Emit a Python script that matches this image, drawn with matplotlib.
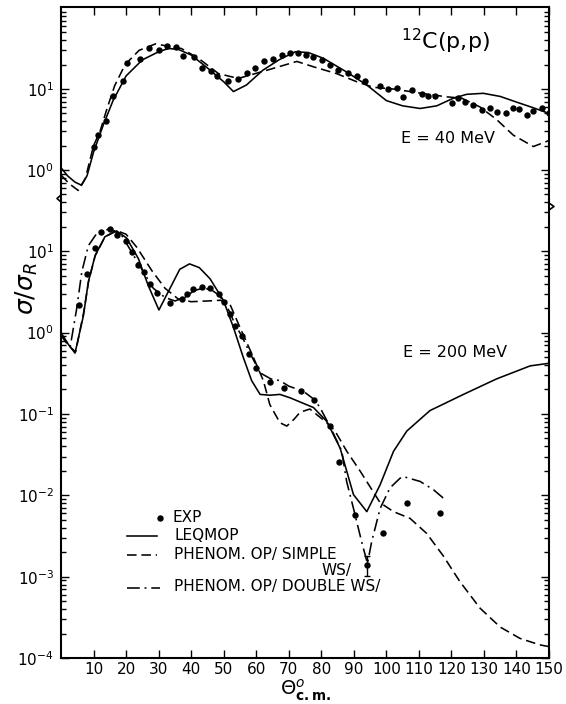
import matplotlib
matplotlib.use("Agg")
import matplotlib.pyplot as plt
from matplotlib.lines import Line2D

plt.rcParams['font.family'] = ['DejaVu Sans']
plt.rcParams['mathtext.fontset'] = 'dejavusans'

# ---- 12C(p,p), E = 40 MeV ----
exp40_x = [10.2, 11.5, 13.7, 16.1, 19.2, 20.4, 24.3, 27.1, 30.1, 32.7, 35.3, 37.4, 41.0, 43.2,
           46.1, 48.0, 51.2, 54.5, 57.1, 59.6, 62.5, 65.3, 67.8, 70.4, 72.8, 75.3, 77.6, 80.1,
           82.7, 85.2, 88.3, 91.1, 93.5, 98.1, 100.6, 103.2, 105.0, 107.8, 110.9, 112.9, 115.0,
           120.1, 121.9, 124.2, 126.7, 129.3, 131.9, 134.1, 136.8, 139.0, 140.9, 143.2, 145.2,
           147.8, 150.0]
exp40_y = [1.95, 2.7, 4.0, 8.2, 12.6, 20.8, 23.5, 32, 30, 34, 33, 25.6, 25, 18.3,
           16.8, 14.6, 12.6, 13.3, 15.9, 18.3, 22.3, 23.3, 26, 27.6, 27.6, 26.5, 24.5, 22.8,
           20, 17.1, 15.6, 14.5, 12.6, 10.9, 10, 10.4, 8.0, 9.7, 8.6, 8.3, 8.2,
           6.8, 7.8, 6.96, 6.3, 5.5, 5.9, 5.25, 5.1, 5.8, 5.6, 4.8, 5.35,
           5.9, 5.0]

leq40_x = [0, 2, 4.3, 6.3, 8, 10, 13, 16, 20, 25, 30, 33, 36, 40, 45, 50, 53, 57, 62, 67, 72,
           76, 80.6, 87.8, 94, 100, 105, 110.4, 115.5, 120.6, 124.7, 129.8, 135, 140, 145, 150]
leq40_y = [1.07, 0.85, 0.71, 0.65, 0.85, 1.66, 3.6, 7.2, 14.5, 22.9, 28.8, 31.6, 30.9, 26.3,
           18.2, 12.3, 9.3, 11.2, 17.0, 22.9, 28.8, 28.2, 24.0, 16.2, 11.2, 7.2, 6.2, 5.75,
           6.2, 7.7, 8.6, 8.85, 8.1, 6.9, 5.9, 5.0]

simple40_x = [0, 2.5, 5.3, 7.5, 10, 12, 14, 16.5, 19.7, 24, 29, 37, 42.2, 48.4, 54.5, 63.2, 72.5,
              77.6, 84.7, 90.9, 96, 102.2, 110.4, 118.6, 123.2, 128.8, 133.9, 139, 145.2, 149.8]
simple40_y = [0.87, 0.68, 0.56, 0.79, 2.0, 3.0, 5.5, 11, 20, 30, 36, 31.6, 24, 15.5, 13.5, 17,
              21.9, 18.8, 15.5, 12.3, 10.5, 10, 8.9, 8.0, 7.7, 6.0, 4.2, 2.7, 1.95, 2.3]

# ---- 12C(p,p), E = 200 MeV ----
exp200_x = [5.5, 7.9, 10.5, 12.3, 15.1, 17.3, 20.0, 21.7, 23.8, 25.6, 27.4, 29.6, 33.5, 37.1,
            38.6, 40.7, 43.2, 45.8, 48.7, 50.2, 52.0, 53.5, 55.5, 57.9, 60.0, 64.2, 68.6, 73.7,
            77.9, 82.7, 85.6, 90.4, 94.0, 99.1, 106.3, 116.5]
exp200_y = [2.2, 5.3, 11, 17.3, 18.6, 15.8, 13.3, 9.8, 6.8, 5.5, 4.0, 3.1, 2.3, 2.6,
            3.0, 3.4, 3.6, 3.5, 3.0, 2.4, 1.7, 1.22, 0.91, 0.55, 0.37, 0.25, 0.21, 0.19,
            0.148, 0.071, 0.026, 0.0057, 0.00138, 0.0034, 0.008, 0.006]
err_x = 94.0
err_lo = 0.00102
err_hi = 0.00178

leq200_x = [0, 2, 4.3, 6.9, 8.4, 10.5, 13.5, 17.1, 20.2, 23.8, 26.8, 30.1, 33.5, 36.5, 39.5,
            42.5, 45.8, 49.9, 53, 56, 58.6, 61.2, 64.2, 67.3, 70.4, 77.6, 81.7, 85.8, 89.9, 94,
            98.1, 102.2, 106.3, 113.4, 123.7, 133.9, 144.2, 150]
leq200_y = [0.96, 0.74, 0.56, 1.62, 4.2, 8.9, 15.1, 17.8, 14.5, 8.1, 3.8, 1.9, 3.5, 6.0, 7.0,
            6.3, 4.6, 2.5, 1.16, 0.50, 0.257, 0.174, 0.17, 0.174, 0.158, 0.12, 0.081, 0.038,
            0.0102, 0.0063, 0.0135, 0.0347, 0.0617, 0.11, 0.174, 0.27, 0.39, 0.42]

simple200_x = [0, 2.2, 4.5, 7, 8.5, 10.5, 13.5, 17, 20, 23.3, 27.9, 32, 36, 40, 45, 49, 52, 55,
               59.1, 62.2, 64.2, 67.3, 69.4, 71.5, 73.5, 76.5, 81.7, 84.2, 87.8, 91.9, 98.1,
               102.2, 107.3, 112.4, 117.5, 122.6, 128.8, 135, 141.1, 147.2, 150]
simple200_y = [0.92, 0.70, 0.58, 1.8, 4.3, 8.8, 15.0, 18.0, 16.2, 11.2, 5.8, 3.5, 2.6, 2.4, 2.45,
               2.5, 2.2, 1.16, 0.50, 0.257, 0.13, 0.078, 0.071, 0.085, 0.105, 0.115, 0.078,
               0.062, 0.035, 0.02, 0.0081, 0.0063, 0.0052, 0.0034, 0.0018, 0.00087, 0.00041,
               0.00024, 0.000174, 0.000145, 0.000138]

double200_x = [0, 1.5, 2.8, 4.8, 6.4, 8.4, 11, 15.1, 18.6, 21.7, 25.3, 28.4, 32, 35, 38, 41,
               43.5, 46, 48.5, 50.4, 52, 53.5, 55.5, 57.9, 61.2, 64.5, 67.3, 70, 74.5, 77.9,
               79.6, 82.7, 86.3, 87.8, 89.9, 92.4, 94.2, 95.5, 98.1, 101.1, 104.2, 105.2,
               110.4, 114.5, 118]
double200_y = [1.0, 0.8, 0.66, 1.95, 5.6, 11.7, 16.6, 19.0, 15.8, 9.8, 5.6, 3.5, 2.7, 2.45, 2.7,
               3.3, 3.5, 3.4, 2.9, 2.3, 1.75, 1.25, 0.92, 0.58, 0.32, 0.27, 0.257, 0.22, 0.19,
               0.15, 0.12, 0.07, 0.035, 0.0148, 0.0069, 0.0027, 0.00145, 0.0027, 0.0069,
               0.0123, 0.0162, 0.017, 0.0148, 0.0117, 0.0089]

W_PX, H_PX = 566, 704
fig = plt.figure(figsize=(W_PX / 100, H_PX / 100), dpi=100)


def fx(px):
    return px / W_PX


def fy(py):
    return 1 - py / H_PX


L, R, T, BRK, B = fx(61), fx(549), fy(7), fy(200), fy(658)
ax1 = fig.add_axes([L, BRK, R - L, T - BRK])
ax2 = fig.add_axes([L, B, R - L, BRK - B])

lw = 1.15
dash = (6, 3)
dashdot = (8, 3, 1.2, 3)

ax1.plot(leq40_x, leq40_y, color='black', lw=lw)
ax1.plot(simple40_x, simple40_y, color='black', lw=lw, dashes=dash)
ax1.plot(exp40_x, exp40_y, 'o', color='black', ms=4.6, mec='none')

ax2.plot(leq200_x, leq200_y, color='black', lw=lw)
ax2.plot(simple200_x, simple200_y, color='black', lw=lw, dashes=dash)
ax2.plot(double200_x, double200_y, color='black', lw=lw, dashes=dashdot)
ax2.plot(exp200_x, exp200_y, 'o', color='black', ms=4.6, mec='none')
ax2.errorbar([err_x], [0.00138], yerr=[[0.00138 - err_lo], [err_hi - 0.00138]], fmt='none',
             ecolor='black', elinewidth=1.0, capsize=2.5)

for ax in (ax1, ax2):
    ax.set_yscale('log')
    ax.set_xlim(0, 150)
    ax.set_xticks(range(10, 151, 10))
    for s in ax.spines.values():
        s.set_linewidth(1.5)
    ax.tick_params(which='both', direction='in', left=True, right=True, width=1.0,
                   labelsize=11, pad=5)
    ax.tick_params(which='major', length=6)
    ax.tick_params(which='minor', length=3.5)

ax1.set_ylim(0.427, 102.8)
ax1.set_yticks([1, 10])
ax1.spines['bottom'].set_visible(False)
ax1.tick_params(axis='x', bottom=False, top=True, labelbottom=False)

ax2.set_ylim(1e-4, 42.7)
ax2.set_yticks([1e-4, 1e-3, 1e-2, 1e-1, 1, 10])
ax2.spines['top'].set_visible(False)
ax2.tick_params(axis='x', top=False, bottom=True, labelsize=11, pad=3)

# axis breaks
fig.add_artist(Line2D([fx(61), fx(61), fx(57), fx(61), fx(61)],
                      [fy(192), fy(195), fy(198.5), fy(202), fy(205)],
                      color='black', lw=1.2))
fig.add_artist(Line2D([fx(549), fx(549), fx(554), fx(549), fx(549)],
                      [fy(199), fy(203), fy(206.5), fy(210), fy(214)],
                      color='black', lw=1.2))

ax1.text(0.696, 0.82, r'$^{12}$C(p,p)', transform=ax1.transAxes, fontsize=16, va='center')
ax1.text(0.696, 0.32, 'E = 40 MeV', transform=ax1.transAxes, fontsize=11.5, va='center')
ax2.text(0.70, 0.668, 'E = 200 MeV', transform=ax2.transAxes, fontsize=11.5, va='center')

fig.text(fx(27), fy(289), r'$\sigma/\sigma_R$', rotation=90, fontsize=18, ha='center', va='center')
fig.text(fx(306), fy(678), r'$\Theta^{o}_{\mathbf{c.m.}}$', fontsize=14, ha='center', va='top')


# legend drawn by hand
def ax2x(px):
    return (px - 61) / 488


def ax2y(py):
    return (658 - py) / 458


tr = ax2.transAxes
ax2.plot([ax2x(160)], [ax2y(518)], 'o', color='black', ms=4.6, mec='none', transform=tr,
         clip_on=False)
ax2.text(ax2x(172), ax2y(517), 'EXP', transform=tr, fontsize=11, va='center')
ax2.plot([ax2x(127), ax2x(157)], [ax2y(536)] * 2, color='black', lw=lw, transform=tr)
ax2.text(ax2x(174), ax2y(536), 'LEQMOP', transform=tr, fontsize=11, va='center')
ax2.plot([ax2x(127), ax2x(157)], [ax2y(555)] * 2, color='black', lw=lw, dashes=dash, transform=tr)
ax2.text(ax2x(174), ax2y(555), 'PHENOM. OP/ SIMPLE', transform=tr, fontsize=11, va='center')
ax2.text(ax2x(352), ax2y(571), 'WS/', transform=tr, fontsize=11, va='center', ha='right')
ax2.plot([ax2x(127), ax2x(160)], [ax2y(588)] * 2, color='black', lw=lw, dashes=dashdot,
         transform=tr)
ax2.text(ax2x(174), ax2y(587), 'PHENOM. OP/ DOUBLE WS/', transform=tr, fontsize=11, va='center')

fig.savefig('out.png', dpi=100)
